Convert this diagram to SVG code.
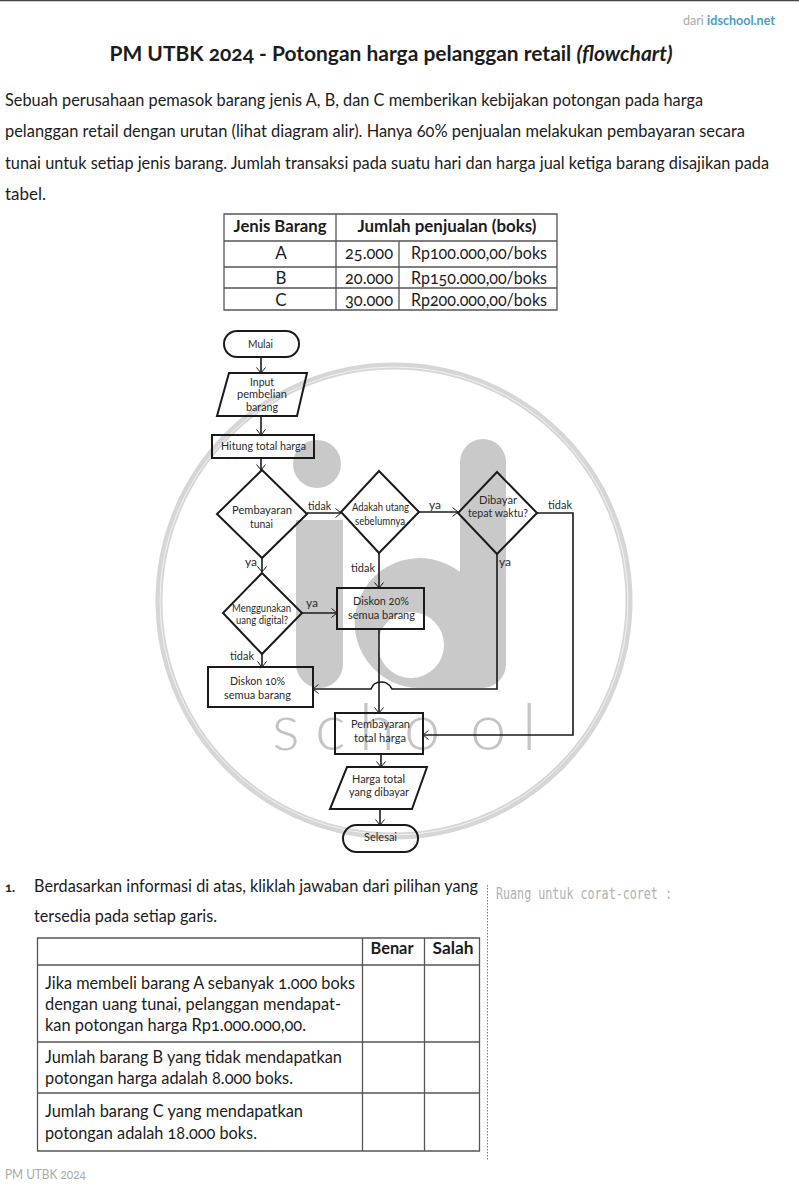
<svg xmlns="http://www.w3.org/2000/svg" width="799" height="1200" viewBox="0 0 799 1200">
<style>
text{font-family:"Lato","Open Sans","Liberation Sans",sans-serif;fill:#1c1c1c;font-variant-numeric:oldstyle-nums}
.m{text-anchor:middle}
.p{font-size:16.5px}
.q{font-size:17.500px}
.h{font-size:17.5px;font-weight:700}
.c{font-size:17px}
.t{font-size:17px}
.n{font-size:12px;text-anchor:middle;fill:#2a2a2a}
.s{font-size:11.5px;text-anchor:middle;fill:#2a2a2a}
.l{font-size:12px;fill:#2a2a2a}
.sh{fill:none;stroke:#1a1a1a;stroke-width:2}
.tb{fill:none;stroke:#555;stroke-width:1.3}
.w{fill:#c9c9c9}
#connectors path{fill:none;stroke:#1a1a1a;stroke-width:1.6}
.a{marker-end:url(#ah)}
</style>
<defs>
<marker id="ah" markerUnits="userSpaceOnUse" markerWidth="12" markerHeight="12" refX="9" refY="6" orient="auto"><path d="M3.5 1.5L9 6L3.5 10.500" fill="none" stroke="#1a1a1a" stroke-width="1"/></marker>
</defs>
<rect width="799" height="1200" fill="#fff"/>
<path d="M0 0.500H799" stroke="#444" stroke-width="1.6"/>
<text x="775" y="25" text-anchor="end" textLength="92" lengthAdjust="spacingAndGlyphs" style="font-size:13px;fill:#aaa">dari <tspan style="font-weight:700;fill:#4d9ac6">idschool.net</tspan></text>
<text x="391" y="61" class="m" textLength="563" lengthAdjust="spacingAndGlyphs" style="font-size:20px;font-weight:700">PM UTBK 2024 - Potongan harga pelanggan retail <tspan font-style="italic">(flowchart)</tspan></text>
<text x="5" y="106" class="p" textLength="698" lengthAdjust="spacingAndGlyphs">Sebuah perusahaan pemasok barang jenis A, B, dan C memberikan kebijakan potongan pada harga</text>
<text x="5" y="137" class="p" textLength="740" lengthAdjust="spacingAndGlyphs">pelanggan retail dengan urutan (lihat diagram alir). Hanya 60% penjualan melakukan pembayaran secara</text>
<text x="5" y="169" class="p" textLength="764" lengthAdjust="spacingAndGlyphs">tunai untuk setiap jenis barang. Jumlah transaksi pada suatu hari dan harga jual ketiga barang disajikan pada</text>
<text x="5" y="200" class="p" textLength="41" lengthAdjust="spacingAndGlyphs">tabel.</text>
<g id="table-harga">
<path class="tb" d="M224 214H557V310H224ZM224 241H557M224 267H557M224 288H557M336 214V310M399 241V310"/>
<text x="280" y="232" class="m h" textLength="93" lengthAdjust="spacingAndGlyphs">Jenis Barang</text>
<text x="447" y="232" class="m h" textLength="179" lengthAdjust="spacingAndGlyphs">Jumlah penjualan (boks)</text>
<text x="281" y="259" class="m c">A</text><text x="281" y="284" class="m c">B</text><text x="281" y="306" class="m c">C</text>
<text x="369" y="259" class="m c" textLength="48" lengthAdjust="spacingAndGlyphs">25.000</text>
<text x="369" y="284" class="m c" textLength="48" lengthAdjust="spacingAndGlyphs">20.000</text>
<text x="369" y="306" class="m c" textLength="48" lengthAdjust="spacingAndGlyphs">30.000</text>
<text x="479" y="259" class="m c" textLength="136" lengthAdjust="spacingAndGlyphs">Rp100.000,00/boks</text>
<text x="479" y="284" class="m c" textLength="136" lengthAdjust="spacingAndGlyphs">Rp150.000,00/boks</text>
<text x="479" y="306" class="m c" textLength="136" lengthAdjust="spacingAndGlyphs">Rp200.000,00/boks</text>
</g>
<g id="watermark">
<circle cx="394" cy="601" r="235" fill="none" stroke="#d6d6d6" stroke-width="7"/>
<circle cx="394" cy="601" r="234" fill="none" stroke="#f2f2f2" stroke-width="1"/>
<circle class="w" cx="317" cy="464" r="24"/>
<path class="w" d="M296 520H343V664A23.500 24 0 0 1 320 688A24 24 0 0 1 296 664Z"/>
<path class="w" fill-rule="evenodd" d="M460 462A23 23 0 0 1 506 462V664A24 24 0 0 1 482 688H422A65 65 0 1 1 460 572ZM411 612A33 33 0 1 0 411 678A33 33 0 1 0 411 612Z"/>
<text y="750" style="font-size:65px;font-weight:300;fill:#c4c4c4" x="272 315 359 404 470 522">school</text>
</g>
<g id="connectors">
<path class="a" d="M261 357V373"/>
<path class="a" d="M261 416V435"/>
<path class="a" d="M261 458V470"/>
<path class="a" d="M307 513H341"/>
<path class="a" d="M419 512H458"/>
<path class="a" d="M379 553V588"/>
<path class="a" d="M537 513H573V735H423"/>
<path class="a" d="M497 554V689H392C388 682 384 682 381 682S373 683 371 689H313"/>
<path class="a" d="M262 558V572"/>
<path class="a" d="M302 613H337"/>
<path class="a" d="M262 654V667"/>
<path class="a" d="M379 629V713"/>
<path class="a" d="M381 754V767"/>
<path class="a" d="M380 809V825"/>
</g>
<g id="mulai"><rect class="sh" x="224" y="331" width="75" height="26" rx="13"/><text class="n" x="260.500" y="348" textLength="25" lengthAdjust="spacingAndGlyphs">Mulai</text></g>
<g id="input"><path class="sh" d="M229 373H307L297 416H217Z"/><text class="n" x="262" y="386" textLength="24" lengthAdjust="spacingAndGlyphs">Input</text><text class="n" x="262" y="398" textLength="50" lengthAdjust="spacingAndGlyphs">pembelian</text><text class="n" x="262" y="411" textLength="32" lengthAdjust="spacingAndGlyphs">barang</text></g>
<g id="hitung"><rect class="sh" x="212" y="435" width="102" height="23"/><text class="n" x="263.500" y="450" textLength="85" lengthAdjust="spacingAndGlyphs">Hitung total harga</text></g>
<g id="pembayaran-tunai"><path class="sh" d="M262 470L307 514L262 558L217 514Z"/><text class="n" x="262" y="514" textLength="60" lengthAdjust="spacingAndGlyphs">Pembayaran</text><text class="n" x="261.500" y="528" textLength="23" lengthAdjust="spacingAndGlyphs">tunai</text></g>
<g id="utang"><path class="sh" d="M379 471L419 512L379 553L341 512Z"/><text class="s" x="380.500" y="511" textLength="57" lengthAdjust="spacingAndGlyphs">Adakah utang</text><text class="s" x="380" y="525" textLength="50" lengthAdjust="spacingAndGlyphs">sebelumnya</text></g>
<g id="tepat-waktu"><path class="sh" d="M497 472L537 513L497 554L458 513Z"/><text class="n" x="498" y="504" textLength="38" lengthAdjust="spacingAndGlyphs">Dibayar</text><text class="n" x="498" y="517" textLength="60" lengthAdjust="spacingAndGlyphs">tepat waktu?</text></g>
<g id="digital"><path class="sh" d="M262 573L302 613L262 654L223 613Z"/><text class="s" x="261.500" y="612" textLength="59" lengthAdjust="spacingAndGlyphs">Menggunakan</text><text class="s" x="262" y="624" textLength="52" lengthAdjust="spacingAndGlyphs">uang digital?</text></g>
<g id="diskon20"><rect class="sh" x="337" y="588" width="87" height="41"/><text class="n" x="381" y="605" textLength="56" lengthAdjust="spacingAndGlyphs">Diskon 20%</text><text class="n" x="381.500" y="619" textLength="67" lengthAdjust="spacingAndGlyphs">semua barang</text></g>
<g id="diskon10"><rect class="sh" x="208" y="667" width="105" height="40"/><text class="n" x="257.500" y="685" textLength="55" lengthAdjust="spacingAndGlyphs">Diskon 10%</text><text class="n" x="257.500" y="699" textLength="67" lengthAdjust="spacingAndGlyphs">semua barang</text></g>
<g id="pembayaran-total"><rect class="sh" x="335" y="713" width="88" height="41"/><text class="n" x="380.500" y="728" textLength="59" lengthAdjust="spacingAndGlyphs">Pembayaran</text><text class="n" x="380" y="742" textLength="52" lengthAdjust="spacingAndGlyphs">total harga</text></g>
<g id="harga-total"><path class="sh" d="M347 767H427L412 809H330Z"/><text class="n" x="378.500" y="783" textLength="53" lengthAdjust="spacingAndGlyphs">Harga total</text><text class="n" x="379" y="796" textLength="60" lengthAdjust="spacingAndGlyphs">yang dibayar</text></g>
<g id="selesai"><rect class="sh" x="343" y="825" width="75" height="27" rx="13.500"/><text class="n" x="380.500" y="841" textLength="33" lengthAdjust="spacingAndGlyphs">Selesai</text></g>
<g id="labels">
<text class="l" x="308" y="510" textLength="23" lengthAdjust="spacingAndGlyphs">tidak</text><text class="l" x="429" y="509">ya</text><text class="l" x="548" y="509" textLength="24" lengthAdjust="spacingAndGlyphs">tidak</text>
<text class="l" x="245" y="566">ya</text><text class="l" x="351" y="572" textLength="24" lengthAdjust="spacingAndGlyphs">tidak</text><text class="l" x="499" y="566">ya</text>
<text class="l" x="306" y="607">ya</text><text class="l" x="230" y="660" textLength="24" lengthAdjust="spacingAndGlyphs">tidak</text>
</g>
<text x="5" y="892" style="font-size:13px;font-weight:700">1.</text>
<text x="34" y="892" class="q" textLength="444" lengthAdjust="spacingAndGlyphs">Berdasarkan informasi di atas, kliklah jawaban dari pilihan yang</text>
<text x="34" y="922" class="q" textLength="183" lengthAdjust="spacingAndGlyphs">tersedia pada setiap garis.</text>
<path d="M487.500 885V1160" stroke="#777" stroke-width="1" stroke-dasharray="1.500 1.500"/>
<text x="496" y="899" textLength="176" lengthAdjust="spacingAndGlyphs" style="font-family:'DejaVu Sans Mono',monospace;font-size:16px;fill:#b0b0b0">Ruang untuk corat-coret :</text>
<g id="table-soal">
<path class="tb" d="M37.500 938H479.500V1151H37.500ZM37.500 965H479.500M37.500 1042H479.500M37.500 1093H479.500M362.500 938V1151M424.500 938V1151"/>
<text x="392" y="954" class="m h" textLength="43" lengthAdjust="spacingAndGlyphs">Benar</text><text x="453" y="954" class="m h" textLength="41" lengthAdjust="spacingAndGlyphs">Salah</text>
<text x="45" y="989" class="t" textLength="310" lengthAdjust="spacingAndGlyphs">Jika membeli barang A sebanyak 1.000 boks</text>
<text x="45" y="1010" class="t" textLength="296" lengthAdjust="spacingAndGlyphs">dengan uang tunai, pelanggan mendapat-</text>
<text x="45" y="1031" class="t" textLength="261" lengthAdjust="spacingAndGlyphs">kan potongan harga Rp1.000.000,00.</text>
<text x="45" y="1063" class="t" textLength="297" lengthAdjust="spacingAndGlyphs">Jumlah barang B yang tidak mendapatkan</text>
<text x="45" y="1084" class="t" textLength="248" lengthAdjust="spacingAndGlyphs">potongan harga adalah 8.000 boks.</text>
<text x="45" y="1117" class="t" textLength="258" lengthAdjust="spacingAndGlyphs">Jumlah barang C yang mendapatkan</text>
<text x="45" y="1139" class="t" textLength="212" lengthAdjust="spacingAndGlyphs">potongan adalah 18.000 boks.</text>
</g>
<text x="5" y="1179" style="font-size:12.5px;fill:#aaa" textLength="81" lengthAdjust="spacingAndGlyphs">PM UTBK 2024</text>
</svg>
